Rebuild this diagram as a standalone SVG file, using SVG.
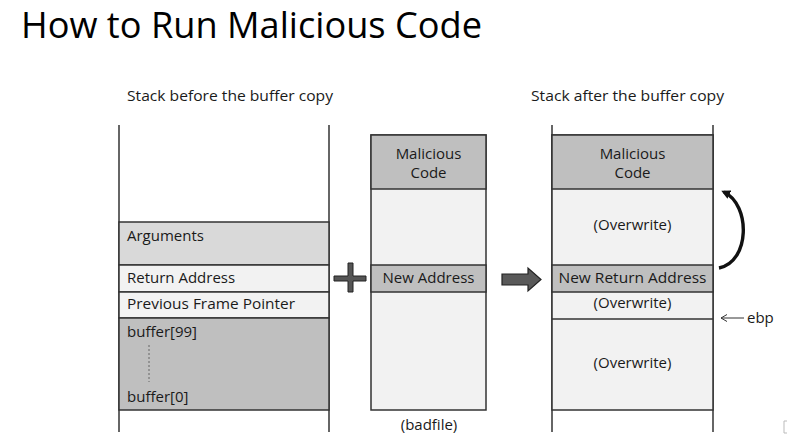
<svg xmlns="http://www.w3.org/2000/svg" width="787" height="441" viewBox="0 0 787 441">
<style>
text{font-family:"Open Sans","Liberation Sans",sans-serif;fill:#1a1a1a;}
.t{font-size:15px;}
.c{text-anchor:middle;}
.frame{stroke:#333;stroke-width:1.5;fill:none;}
.cell{stroke:#333;stroke-width:1.5;}
.light{fill:#f2f2f2;}
.mid{fill:#d9d9d9;}
.dark{fill:#bfbfbf;}
</style>
<defs>
<marker id="ah" markerWidth="9" markerHeight="9" refX="6" refY="4.5" orient="auto" markerUnits="userSpaceOnUse">
<path d="M0,0 L9,4.5 L0,9 z" fill="#111"/>
</marker>
<marker id="sh" markerWidth="10" markerHeight="8" refX="7" refY="4" orient="auto" markerUnits="userSpaceOnUse">
<path d="M1,0.5 L7,4 L1,7.5" fill="none" stroke="#333" stroke-width="1"/>
</marker>
</defs>
<rect width="787" height="441" fill="#fff"/>
<text x="21" y="38" style="font-size:36px;fill:#000" textLength="461" lengthAdjust="spacingAndGlyphs">How to Run Malicious Code</text>

<g id="before">
<text class="t" x="127" y="101" textLength="206" lengthAdjust="spacingAndGlyphs">Stack before the buffer copy</text>
<line class="frame" x1="119" y1="125" x2="119" y2="432"/>
<line class="frame" x1="329" y1="125" x2="329" y2="432"/>
<rect class="cell mid" x="119" y="222" width="210" height="43"/>
<rect class="cell light" x="119" y="265" width="210" height="27"/>
<rect class="cell light" x="119" y="292" width="210" height="26"/>
<rect class="cell dark" x="119" y="318" width="210" height="92"/>
<text class="t" x="127" y="241">Arguments</text>
<text class="t" x="127" y="283">Return Address</text>
<text class="t" x="127" y="309" textLength="168" lengthAdjust="spacingAndGlyphs">Previous Frame Pointer</text>
<text class="t" x="127" y="337">buffer[99]</text>
<line x1="149" y1="345" x2="149" y2="382" stroke="#666" stroke-width="1" stroke-dasharray="2,2"/>
<text class="t" x="127" y="402">buffer[0]</text>
</g>

<g id="plus">
<path d="M348,263 h5 v13 h13 v5 h-13 v11 h-5 v-11 h-14 v-5 h14 z" fill="#555" stroke="#222" stroke-width="1"/>
</g>

<g id="badfile">
<rect class="cell light" x="371" y="135" width="115" height="275"/>
<rect class="cell dark" x="371" y="135" width="115" height="54"/>
<rect class="cell dark" x="371" y="265" width="115" height="27"/>
<text class="t c" x="428.5" y="159">Malicious</text>
<text class="t c" x="428.5" y="178">Code</text>
<text class="t c" x="428.5" y="283">New Address</text>
<text class="t c" x="429" y="430">(badfile)</text>
</g>

<g id="blockarrow">
<path d="M502,274 h26 v-6 l13,11.5 l-13,11.5 v-6 h-26 z" fill="#595959" stroke="#222" stroke-width="1.2"/>
</g>

<g id="after">
<text class="t" x="531" y="101" textLength="193" lengthAdjust="spacingAndGlyphs">Stack after the buffer copy</text>
<line class="frame" x1="552" y1="125" x2="552" y2="432"/>
<line class="frame" x1="713" y1="125" x2="713" y2="432"/>
<rect class="cell light" x="552" y="135" width="161" height="275"/>
<rect class="cell dark" x="552" y="135" width="161" height="54"/>
<rect class="cell dark" x="552" y="265" width="161" height="27"/>
<line class="cell" x1="552" y1="319" x2="713" y2="319"/>
<text class="t c" x="632.5" y="159">Malicious</text>
<text class="t c" x="632.5" y="178">Code</text>
<text class="t c" x="632.5" y="230">(Overwrite)</text>
<text class="t c" x="632.5" y="283" textLength="148" lengthAdjust="spacingAndGlyphs">New Return Address</text>
<text class="t c" x="632.5" y="308">(Overwrite)</text>
<text class="t c" x="632.5" y="368">(Overwrite)</text>
</g>

<g id="connectors">
<path d="M719,268 C750,262 751,205 724,192" fill="none" stroke="#111" stroke-width="3.4" marker-end="url(#ah)"/>
<line x1="744" y1="318" x2="721" y2="318" stroke="#333" stroke-width="1" marker-end="url(#sh)"/>
</g>
<text class="t" x="747" y="323">ebp</text>
<path d="M787,421 h-3 v12 h3" fill="none" stroke="#bbb" stroke-width="1"/>
</svg>
